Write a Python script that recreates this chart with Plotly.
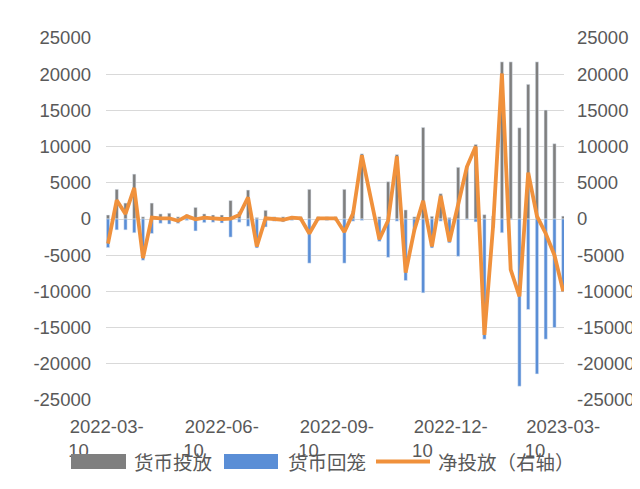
import pandas as pd
import plotly.graph_objects as go

# weekly open-market operations, 2022-03-11 .. 2023-03-10 (one holiday week without data)
weeks = pd.date_range("2022-03-11", "2023-03-10", freq="7D")

injection = [
    550, 4100, 2200, 6200, 300, 2200, 700, 800, 300, 600,
    1600, 700, 550, 550, 2550, 1000, 4000, 200, 1200, 300,
    300, 400, 300, 4100, 300, 300, 300, 4100, 1100, 9000,
    None, 300, 5150, 8900, 1250, 300, 12650, 370, 3500, 200,
    7140, 7300, 10300, 600, 400, 21700, 21700, 12600, 18600, 21700,
    15050, 10400, 400,
]
withdrawal = [
    -3950, -1500, -1500, -1900, -5700, -2000, -600, -700, -600, -200,
    -1650, -500, -450, -550, -2500, -450, -1000, -4000, -1100, -300,
    -400, -200, -200, -6100, -200, -200, -200, -6100, -300, -200,
    None, -3100, -5300, -300, -8500, -1800, -10200, -4000, -300, -3300,
    -5160, -100, -400, -16600, -1200, -1900, -100, -23100, -12500, -21400,
    -16600, -15000, -10050,
]
net = [
    -3400, 2600, 700, 4300, -5400, 200, 100, 100, -250, 400,
    -50, 200, 100, 0, 50, 550, 3000, -3800, 100, 0,
    -100, 200, 100, -2000, 100, 100, 100, -1800, 800, 8800,
    None, -2800, -200, 8650, -7400, -1500, 2500, -3800, 3200, -3100,
    2000, 7200, 10000, -16000, -800, 20100, -7000, -10700, 6400, 400,
    -2000, -5000, -10000,
]

y_ticks = [25000, 20000, 15000, 10000, 5000, 0, -5000, -10000, -15000, -20000, -25000]
x_ticks = pd.to_datetime(["2022-03-10", "2022-06-10", "2022-09-10", "2022-12-10", "2023-03-10"])
names = ["货币投放", "货币回笼", "净投放（右轴）"]

GREY = "#7F7F7F"
BLUE = "#5A8ED6"
ORANGE = "#F0913C"
TEXT = "#595959"

W, H = 640, 489
L, R, T, B = 98, 556, 30, 392  # plot area in pixels


def px(x, y):
    """pixel position -> paper coords of the plot area"""
    return (x - L) / (R - L), (B - y) / (B - T)


bar_w = 2.6 * 86400000

fig = go.Figure()
fig.add_trace(go.Bar(x=weeks, y=injection, name=names[0], marker_color=GREY,
                     width=bar_w, showlegend=False))
fig.add_trace(go.Bar(x=weeks, y=withdrawal, name=names[1], marker_color=BLUE,
                     width=bar_w, showlegend=False))
fig.add_trace(go.Scatter(x=weeks, y=net, name=names[2], mode="lines", yaxis="y2",
                         connectgaps=True, line=dict(color=ORANGE, width=3.8),
                         showlegend=False))

nb = "\u00a0"
tick_text = [f"{d:%Y-%m-}<br>{d:%d}" + nb * 11 for d in x_ticks]
y_text = [str(v) for v in y_ticks]
tick_font = dict(family="Liberation Sans, Noto Sans CJK SC", size=18.5, color=TEXT)

fig.update_layout(
    width=W, height=H,
    margin=dict(l=L, r=W - R, t=T, b=H - B),
    barmode="relative",
    plot_bgcolor="white",
    paper_bgcolor="white",
    xaxis=dict(type="date", range=["2022-03-09 10:00", "2023-03-10 15:00"],
               tickvals=x_ticks, ticktext=tick_text, tickangle=0,
               showgrid=False, zeroline=False, showline=False,
               ticks="", ticklabelstandoff=13, tickfont=tick_font),
    yaxis=dict(range=[-25000, 25000], tickvals=y_ticks, ticktext=y_text,
               showgrid=True, gridcolor="#D9D9D9", gridwidth=1.3,
               zeroline=True, zerolinecolor="#D9D9D9", zerolinewidth=1.3,
               ticks="", ticklabelstandoff=14, tickfont=tick_font),
    yaxis2=dict(range=[-25000, 25000], tickvals=y_ticks, ticktext=y_text,
                overlaying="y", side="right", showgrid=False, zeroline=False,
                ticks="", ticklabelstandoff=12, tickfont=tick_font),
)

# legend drawn by hand so the swatches keep the wide office look
legend_font = dict(family="Noto Sans CJK SC", size=19.5, color=TEXT)
shapes = []
x0, y0 = px(63, 446)
x1, y1 = px(118, 461)
shapes.append(dict(type="rect", xref="paper", yref="paper", x0=x0, x1=x1, y0=y0, y1=y1,
                   fillcolor=GREY, line_width=0, layer="above"))
x0, y0 = px(216, 446)
x1, y1 = px(270, 461)
shapes.append(dict(type="rect", xref="paper", yref="paper", x0=x0, x1=x1, y0=y0, y1=y1,
                   fillcolor=BLUE, line_width=0, layer="above"))
x0, ym = px(368, 453.5)
x1, _ = px(422, 453.5)
shapes.append(dict(type="line", xref="paper", yref="paper", x0=x0, x1=x1, y0=ym, y1=ym,
                   line=dict(color=ORANGE, width=4), layer="above"))
# dark frame edge along the bottom of the picture
bx0, by = px(0, 488)
bx1, _ = px(640, 488)
shapes.append(dict(type="line", xref="paper", yref="paper", x0=bx0, x1=bx1, y0=by, y1=by,
                   line=dict(color="#1A1A1A", width=2), layer="above"))
fig.update_layout(shapes=shapes)

for label, left in zip(names, [124, 278, 428]):
    ax, ay = px(left, 453.5)
    fig.add_annotation(x=ax, y=ay, xref="paper", yref="paper", text=label,
                       showarrow=False, xanchor="left", yanchor="middle",
                       font=legend_font)

fig.write_html("out.html")
